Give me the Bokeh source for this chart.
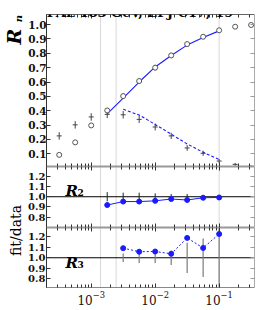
import math
from bokeh.plotting import figure
from bokeh.models import Range1d, LinearAxis, LogAxis, FixedTicker, Span, Label
from bokeh.layouts import column, row
from bokeh.embed import file_html
from bokeh.resources import INLINE

# ---------------- data ----------------
ycut = [3.16e-4, 5.62e-4, 1.0e-3, 1.78e-3, 3.16e-3, 5.62e-3, 1.0e-2,
        1.78e-2, 3.16e-2, 5.62e-2, 1.0e-1, 1.78e-1, 3.16e-1]
r2_data = [0.093, 0.180, 0.298, 0.402, 0.502, 0.607, 0.700, 0.785,
           0.864, 0.915, 0.960, 0.985, 0.997]
r2_err = [0.012, 0.014, 0.016, 0.018, 0.02, 0.02, 0.02, 0.018,
          0.016, 0.014, 0.012, 0.01, 0.008]
r3_data = [0.225, 0.302, 0.357, 0.375, 0.372, 0.340, 0.287, 0.225,
           0.141, 0.104, 0.050, 0.027, 0.013]
r3_err = [0.026, 0.026, 0.026, 0.026, 0.026, 0.025, 0.024, 0.022,
          0.02, 0.018, 0.014, 0.01, 0.008]

r2_fit_y = [1.78e-3, 3.16e-3, 5.62e-3, 1.0e-2, 1.78e-2, 3.16e-2, 5.62e-2, 1.0e-1]
r2_fit = [0.378, 0.488, 0.600, 0.705, 0.785, 0.857, 0.910, 0.956]
r3_fit_y = [3.16e-3, 5.62e-3, 1.0e-2, 1.78e-2, 3.16e-2, 5.62e-2, 1.0e-1]
r3_fit = [0.410, 0.370, 0.305, 0.237, 0.169, 0.111, 0.061]

r2_ratio = [0.919, 0.953, 0.953, 0.960, 0.978, 0.968, 0.990, 0.993]
r2_ratio_err = [0.045, 0.04, 0.04, 0.033, 0.027, 0.027, 0.018, 0.012]
r3_ratio = [1.092, 1.058, 1.060, 1.038, 1.190, 1.094, 1.228]
r3_ratio_err = [0.04, 0.05, 0.05, 0.07, 0.145, 0.185, 0.5]

fit_limits = [1.40e-3, 2.45e-3, 1.0e-1]
ratio_ref = 1.0

top_ticks = [0.1, 0.2, 0.3, 0.4, 0.5, 0.6, 0.7, 0.8, 0.9, 1.0]
top_tick_labels = ["0.1", "0.2", "0.3", "0.4", "0.5", "0.6", "0.7", "0.8", "0.9", "1.0"]
ratio_ticks = [0.8, 0.9, 1.0, 1.1, 1.2]
ratio_tick_labels = ["0.8", "0.9", "1.0", "1.1", "1.2"]
x_major = [1e-3, 1e-2, 1e-1]

title_text = "OPAL 183 GeV, EPJ C17, 19"

# ---------------- style ----------------
X_MIN, X_MAX = 2.0e-4, 0.357
BLUE = "#1a1aff"
SERIF = "DejaVu Serif"
STRIP = 25          # width of the left label strip
BL = 19             # left border of the panels (frame starts at x = 44)
PW = 258 - STRIP    # panel figure width
x_minor = [k * 10.0 ** e for e in (-4, -3, -2, -1) for k in range(2, 10)
           if X_MIN <= k * 10.0 ** e <= X_MAX]


def new_fig(h, yr, bt, bb):
    p = figure(width=PW, height=h, x_axis_type="log",
               x_range=Range1d(X_MIN, X_MAX), y_range=yr,
               x_axis_location=None, y_axis_location=None,
               toolbar_location=None, output_backend="svg",
               min_border_left=BL, min_border_right=4,
               min_border_top=bt, min_border_bottom=bb,
               outline_line_color=None)
    p.grid.visible = False
    for v in fit_limits:
        p.add_layout(Span(location=v, dimension="height", line_color="#d8d8d8",
                          line_width=1, level="underlay"))
    return p


def hide_labels(ax):
    ax.major_label_text_font_size = "1px"
    ax.major_label_text_color = None
    ax.major_label_standoff = 0


def x_axis(p, side, labels=False, line_color="#999999", line_width=2):
    ax = LogAxis(ticker=FixedTicker(ticks=x_major, minor_ticks=x_minor))
    ax.major_tick_in = 4
    ax.major_tick_out = 0
    ax.minor_tick_in = 3
    ax.minor_tick_out = 0
    ax.axis_line_color = line_color
    ax.axis_line_width = line_width
    ax.major_tick_line_color = "#333333"
    ax.minor_tick_line_color = "#333333"
    if labels:
        ax.major_label_text_font = SERIF
        ax.major_label_text_font_size = "12px"
        ax.major_label_text_color = "#111111"
        ax.major_label_standoff = 3
    else:
        hide_labels(ax)
    p.add_layout(ax, side)


def y_axes(p, ticks, tick_labels, font_size, standoff):
    ax = LinearAxis(ticker=FixedTicker(ticks=ticks))
    ax.major_label_overrides = {t: s for t, s in zip(ticks, tick_labels)}
    ax.major_tick_in = 4
    ax.major_tick_out = 0
    ax.minor_tick_line_color = None
    ax.axis_line_color = "#333333"
    ax.major_tick_line_color = "#333333"
    ax.major_label_text_font = SERIF
    ax.major_label_text_font_style = "bold"
    ax.major_label_text_font_size = font_size
    ax.major_label_text_color = "#111111"
    ax.major_label_standoff = standoff
    p.add_layout(ax, "left")
    ar = LinearAxis(ticker=FixedTicker(ticks=ticks))
    ar.major_tick_in = 4
    ar.major_tick_out = 0
    ar.minor_tick_line_color = None
    ar.axis_line_color = "#aaaaaa"
    ar.major_tick_line_color = "#999999"
    hide_labels(ar)
    p.add_layout(ar, "right")


def lab(p, x, y, text, size, style="bold italic", angle=0.0, align="left",
        baseline="alphabetic"):
    p.add_layout(Label(x=x, y=y, x_units="screen", y_units="screen", text=text,
                       text_font=SERIF, text_font_size=size, text_font_style=style,
                       text_color="black", angle=angle, text_align=align,
                       text_baseline=baseline))


# ---------------- top panel ----------------
p1 = new_fig(166, Range1d(0.012, 1.07), 14, 0)
x_axis(p1, "above", line_color="#666666", line_width=1)
x_axis(p1, "below")
y_axes(p1, top_ticks, top_tick_labels, "10.5px", 0)

p1.segment(x0=ycut, y0=[v - e for v, e in zip(r2_data, r2_err)],
           x1=ycut, y1=[v + e for v, e in zip(r2_data, r2_err)],
           line_color="#555555", line_width=1)
p1.segment(x0=ycut, y0=[v - e for v, e in zip(r3_data, r3_err)],
           x1=ycut, y1=[v + e for v, e in zip(r3_data, r3_err)],
           line_color="#444444", line_width=1)
p1.line(r2_fit_y, r2_fit, line_color=BLUE, line_width=1.1)
p1.line(r3_fit_y, r3_fit, line_color=BLUE, line_width=1.1, line_dash="3 2")
p1.scatter(ycut, r2_data, marker="circle", size=5, fill_color="white",
           line_color="#555555", line_width=1)
p1.scatter(ycut, r3_data, marker="dash", size=5, line_color="#444444",
           line_width=1)

lab(p1, -11, 154, title_text, "13px", style="bold")

# ---------------- R2 ratio panel ----------------
p2 = new_fig(61, Range1d(0.70, 1.295), 0, 0)
x_axis(p2, "above")
x_axis(p2, "below")
y_axes(p2, ratio_ticks, ratio_tick_labels, "10px", 1)
p2.add_layout(Span(location=ratio_ref, dimension="width", line_color="black",
                   line_width=1, level="underlay"))
p2.segment(x0=r2_fit_y, y0=[ratio_ref - e for e in r2_ratio_err],
           x1=r2_fit_y, y1=[ratio_ref + e for e in r2_ratio_err],
           line_color="#222222", line_width=1)
p2.line(r2_fit_y, r2_ratio, line_color=BLUE, line_width=1)
p2.scatter(r2_fit_y, r2_ratio, marker="circle", size=5, fill_color=BLUE,
           line_color=BLUE)
lab(p2, 19, 37, "R", "15px")
lab(p2, 31, 35, "2", "9px", style="bold")

# ---------------- R3 ratio panel ----------------
p3 = new_fig(83, Range1d(0.715, 1.29), 0, 23)
x_axis(p3, "above")
x_axis(p3, "below", labels=True, line_color="#888888", line_width=1)
y_axes(p3, ratio_ticks, ratio_tick_labels, "10px", 1)
p3.add_layout(Span(location=ratio_ref, dimension="width", line_color="black",
                   line_width=1, level="underlay"))
p3.segment(x0=r3_fit_y, y0=[ratio_ref - e for e in r3_ratio_err],
           x1=r3_fit_y, y1=[ratio_ref + e for e in r3_ratio_err],
           line_color="#7a7a7a", line_width=1.2)
p3.line(r3_fit_y, r3_ratio, line_color=BLUE, line_width=1, line_dash="2 2")
p3.scatter(r3_fit_y, r3_ratio, marker="circle", size=5, fill_color=BLUE,
           line_color=BLUE)
lab(p3, 19, 25, "R", "15px")
lab(p3, 31, 23, "3", "9px", style="bold")
lab(p3, 199, -14, "y", "15px", style="italic")

# ---------------- left label strip ----------------
ps = figure(width=STRIP, height=310, x_range=Range1d(0, 1), y_range=Range1d(0, 1),
            x_axis_location=None, y_axis_location=None, toolbar_location=None,
            output_backend="svg", min_border=0, outline_line_color=None)
ps.grid.visible = False
lab(ps, 15, 80, "fit/data", "14px", style="normal", angle=math.pi / 2,
    align="center", baseline="middle")
lab(ps, 13, 274, "R", "19px", angle=math.pi / 2, align="center",
    baseline="middle")
lab(ps, 18, 292, "n", "10px", angle=math.pi / 2, align="center",
    baseline="middle")

layout = row(ps, column(p1, p2, p3))
open("out.html", "w").write(file_html(layout, INLINE))
